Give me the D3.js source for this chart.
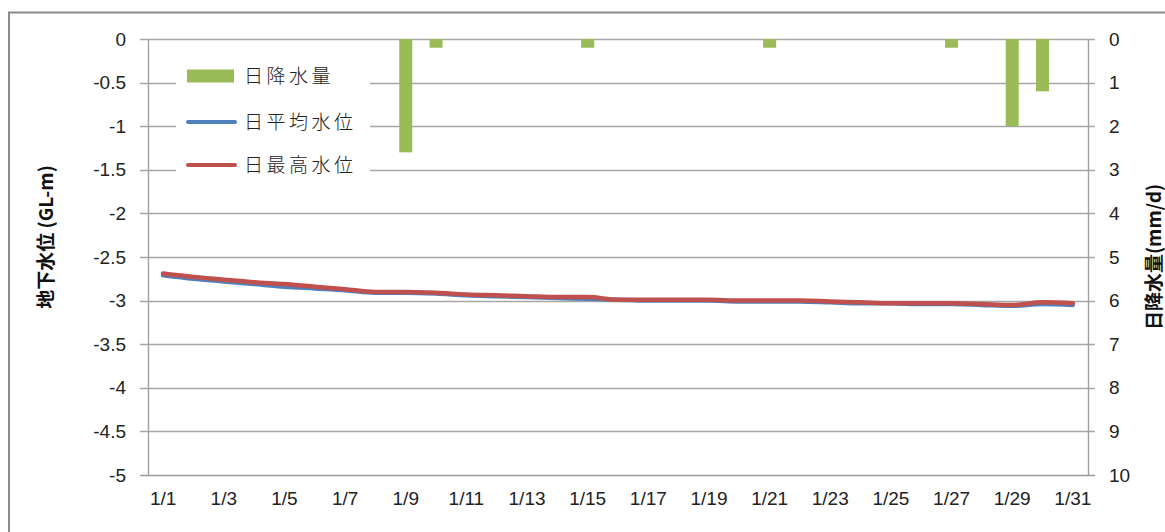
<!DOCTYPE html>
<html>
<head>
<meta charset="utf-8">
<script src="https://cdn.jsdelivr.net/npm/d3@7"></script>
<style>
  html, body { margin: 0; padding: 0; background: #fff; }
  svg { display: block; }
</style>
</head>
<body>
<svg id="chart" width="1165" height="532"></svg>
<script>
// Days of January
const days = d3.range(1, 32).map(d => "1/" + d);

// Daily precipitation (mm/d)
const rain = [0, 0, 0, 0, 0, 0, 0, 0, 2.6, 0.2,
              0, 0, 0, 0, 0.2, 0, 0, 0, 0, 0,
              0.2, 0, 0, 0, 0, 0, 0.2, 0, 2.0, 1.2, 0];

// Daily mean groundwater level (GL-m)
const levelMean = [-2.71, -2.75, -2.78, -2.81, -2.84, -2.86, -2.88, -2.91, -2.91, -2.92,
                   -2.94, -2.95, -2.96, -2.97, -2.98, -2.99, -3.00, -3.00, -3.00, -3.01,
                   -3.01, -3.01, -3.02, -3.03, -3.03, -3.04, -3.04, -3.05, -3.06, -3.04, -3.05];

// Daily maximum groundwater level (GL-m)
const levelMax = [-2.69, -2.73, -2.76, -2.79, -2.81, -2.84, -2.87, -2.90, -2.90, -2.91,
                  -2.93, -2.94, -2.95, -2.96, -2.96, -2.99, -2.99, -2.99, -2.99, -3.00,
                  -3.00, -3.00, -3.01, -3.02, -3.03, -3.03, -3.03, -3.04, -3.05, -3.02, -3.03];

const leftTicks = [0, -0.5, -1, -1.5, -2, -2.5, -3, -3.5, -4, -4.5, -5];
const rightTicks = [0, 1, 2, 3, 4, 5, 6, 7, 8, 9, 10];
const xTickLabels = days.filter((d, i) => i % 2 === 0);

const seriesNames = ["日降水量", "日平均水位", "日最高水位"];
const colors = { rain: "#9BBB59", mean: "#4F81BD", max: "#C0504D" };

const svg = d3.select("#chart");
const plot = { left: 148, right: 1088, top: 39, bottom: 475 };

const x = d3.scaleBand().domain(days).range([plot.left, plot.right]).paddingInner(0.57).paddingOuter(0.285);
const xc = d3.scaleBand().domain(days).range([plot.left, plot.right]);
const yL = d3.scaleLinear().domain([-5, 0]).range([plot.bottom, plot.top]);
const yR = d3.scaleLinear().domain([0, 10]).range([plot.top, plot.bottom]);

const tickFont = "'Liberation Sans', Arial, sans-serif";
const cjkFont = "'Noto Sans CJK JP', 'Noto Sans', sans-serif";

// Chart area border
svg.append("rect")
  .attr("x", 9).attr("y", 12.5)
  .attr("width", 1200).attr("height", 600)
  .attr("fill", "none").attr("stroke", "#8a8a8a").attr("stroke-width", 2);

// Horizontal gridlines (extended past the axes as tick marks)
svg.append("g").selectAll("line").data(leftTicks).join("line")
  .attr("x1", plot.left - 8).attr("x2", plot.right + 7)
  .attr("y1", d => Math.round(yL(d)) + 0.5).attr("y2", d => Math.round(yL(d)) + 0.5)
  .attr("stroke", d => d === -5 ? "#9a9a9a" : "#a6a6a6")
  .attr("stroke-width", 1.6);

// Vertical axis lines
svg.append("line")
  .attr("x1", plot.left + 0.5).attr("x2", plot.left + 0.5)
  .attr("y1", plot.top).attr("y2", plot.bottom)
  .attr("stroke", "#a0a0a0").attr("stroke-width", 1.4);
svg.append("line")
  .attr("x1", plot.right + 0.5).attr("x2", plot.right + 0.5)
  .attr("y1", plot.top).attr("y2", plot.bottom)
  .attr("stroke", "#a0a0a0").attr("stroke-width", 1.4);

// Left axis tick labels (plain hyphen for negatives)
const axL = d3.axisLeft(yL).tickValues(leftTicks).tickSize(0).tickPadding(22)
  .tickFormat(d => String(d));
svg.append("g").attr("transform", `translate(${plot.left},0)`).call(axL)
  .call(g => g.select(".domain").remove())
  .selectAll("text").attr("font-family", tickFont).attr("font-size", 19).attr("fill", "#222");

// Right axis tick labels
const axR = d3.axisRight(yR).tickValues(rightTicks).tickSize(0).tickPadding(21)
  .tickFormat(d => String(d));
svg.append("g").attr("transform", `translate(${plot.right},0)`).call(axR)
  .call(g => g.select(".domain").remove())
  .selectAll("text").attr("font-family", tickFont).attr("font-size", 19).attr("fill", "#222");

// Bottom category labels (every other day)
const axB = d3.axisBottom(xc).tickValues(xTickLabels).tickSize(0).tickPadding(17);
svg.append("g").attr("transform", `translate(0,${plot.bottom})`).call(axB)
  .call(g => g.select(".domain").remove())
  .selectAll("text").attr("font-family", tickFont).attr("font-size", 19).attr("fill", "#222");

// Precipitation bars hanging from the top
svg.append("g").selectAll("rect").data(rain).join("rect")
  .attr("x", (d, i) => x(days[i]))
  .attr("width", x.bandwidth())
  .attr("y", yR(0))
  .attr("height", d => yR(d) - yR(0))
  .attr("fill", colors.rain);

// Groundwater level lines
const line = d3.line()
  .x((d, i) => xc(days[i]) + xc.bandwidth() / 2)
  .y(d => yL(d))
  .curve(d3.curveMonotoneX);

svg.append("path").datum(levelMean).attr("d", line)
  .attr("fill", "none").attr("stroke", colors.mean).attr("stroke-width", 4.5)
  .attr("stroke-linecap", "round").attr("stroke-linejoin", "round");
svg.append("path").datum(levelMax).attr("d", line)
  .attr("fill", "none").attr("stroke", colors.max).attr("stroke-width", 4.5)
  .attr("stroke-linecap", "round").attr("stroke-linejoin", "round");

// Legend
const legend = svg.append("g");
legend.append("rect").attr("x", 176).attr("y", 56).attr("width", 194).attr("height", 128).attr("fill", "#fff");
const legendRows = [
  { name: seriesNames[0], type: "bar", color: colors.rain, y: 76 },
  { name: seriesNames[1], type: "line", color: colors.mean, y: 122 },
  { name: seriesNames[2], type: "line", color: colors.max, y: 165 }
];
const rows = legend.selectAll("g.row").data(legendRows).join("g").attr("class", "row");
rows.filter(d => d.type === "bar").append("rect")
  .attr("x", 187).attr("y", d => d.y - 6.5).attr("width", 47).attr("height", 13).attr("fill", d => d.color);
rows.filter(d => d.type === "line").append("line")
  .attr("x1", 188).attr("x2", 235).attr("y1", d => d.y).attr("y2", d => d.y)
  .attr("stroke", d => d.color).attr("stroke-width", 4).attr("stroke-linecap", "round");
rows.append("text")
  .attr("x", 244).attr("y", d => d.y).attr("dy", "0.36em")
  .attr("font-family", cjkFont).attr("font-size", 19).attr("font-weight", 300)
  .attr("letter-spacing", 3.5).attr("fill", "#222")
  .text(d => d.name);

// Axis titles
svg.append("text")
  .attr("transform", `translate(46,${(plot.top + plot.bottom) / 2 - 20}) rotate(-90)`)
  .attr("text-anchor", "middle").attr("dy", "0.36em")
  .attr("font-family", cjkFont).attr("font-size", 19).attr("font-weight", 700).attr("fill", "#111")
  .text("地下水位 (GL-m)");
svg.append("text")
  .attr("transform", `translate(1154,${(plot.top + plot.bottom) / 2}) rotate(-90)`)
  .attr("text-anchor", "middle").attr("dy", "0.36em")
  .attr("font-family", cjkFont).attr("font-size", 19).attr("font-weight", 700).attr("fill", "#111")
  .text("日降水量(mm/d)");
</script>
</body>
</html>
